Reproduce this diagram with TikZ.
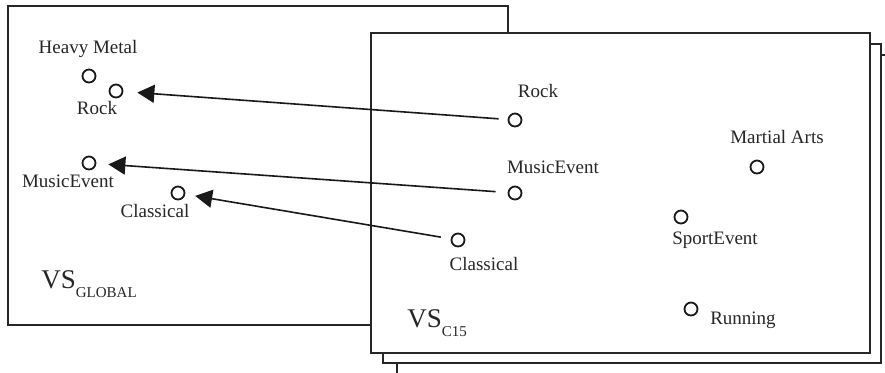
\documentclass[tikz,border=0pt]{standalone}
\usepackage{fontspec}
\setmainfont{Liberation Serif}
\usetikzlibrary{arrows.meta}
\begin{document}
\begin{tikzpicture}[x=0.5pt,y=-0.5pt,
  box/.style={draw=black!85,line width=1pt,fill=white},
  pt/.style={circle,draw=black!90,line width=0.9pt,minimum size=6.5pt,inner sep=0pt},
  lbl/.style={font=\fontsize{9.5}{11}\selectfont,inner sep=0pt,text=black!85},
  vs/.style={font=\fontsize{13.5}{14}\selectfont,inner sep=0pt,text=black!85,anchor=base west},
  arr/.style={line width=0.8pt,draw=black!90,-{Triangle[length=8.5pt,width=9pt]}}]
\useasboundingbox (0,0) rectangle (885,372);
\clip (0,0) rectangle (885,372);
\fill[white] (0,0) rectangle (885,372);
% global box
\draw[box] (8,6) rectangle (508,325);
% stacked boxes
\draw[box] (397,55) rectangle (893,380);
\draw[box] (383,44) rectangle (881,363);
\draw[box] (371,33) rectangle (870,353);
% global points
\node[pt] (gHM) at (89,76) {};
\node[pt] (gRock) at (116,91) {};
\node[pt] (gME) at (89,163) {};
\node[pt] (gCl) at (178,193) {};
\node[lbl] (lgHM) at (88,49) {Heavy Metal};
\node[lbl] (lgRock) at (97,108) {Rock};
\node[lbl] (lgME) at (68,181) {MusicEvent};
\node[lbl] (lgCl) at (155,211) {Classical};
\node[vs] (vsg) at (41,288) {VS{\fontsize{7.5}{8}\selectfont\raisebox{-4.5pt}{GLOBAL}}};
% C15 points
\node[pt] (cRock) at (515,120) {};
\node[pt] (cME) at (515,193) {};
\node[pt] (cCl) at (458,240) {};
\node[pt] (cMA) at (757,167) {};
\node[pt] (cSE) at (681,217) {};
\node[pt] (cRun) at (691,309) {};
\node[lbl] (lcRock) at (538,91) {Rock};
\node[lbl] (lcME) at (553,167) {MusicEvent};
\node[lbl] (lcCl) at (484,264) {Classical};
\node[lbl] (lcMA) at (777,137) {Martial Arts};
\node[lbl] (lcSE) at (715,240) {SportEvent};
\node[lbl] (lcRun) at (743,320) {Running};
\node[vs] (vsc) at (407,327) {VS{\fontsize{7.5}{8}\selectfont\raisebox{-4.5pt}{C15}}};
% arrows
\draw[arr,shorten <=4.5pt,shorten >=7pt] (cRock) -- (gRock);
\draw[arr,shorten <=6pt,shorten >=6pt] (cME) -- (gME);
\draw[arr,shorten <=5pt,shorten >=5pt] (cCl) -- (gCl);
\end{tikzpicture}
\end{document}
